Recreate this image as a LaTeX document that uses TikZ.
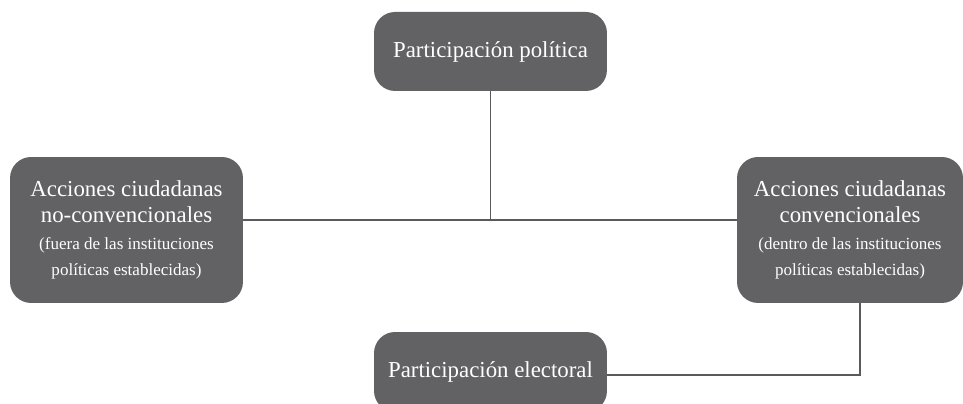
\documentclass[tikz,border=0pt]{standalone}
\usepackage{fontspec}
\setmainfont{Liberation Serif}
\usetikzlibrary{positioning}
\definecolor{boxgray}{HTML}{626163}
\definecolor{linegray}{HTML}{5A595B}
\newcommand{\subsize}{\fontsize{9.7}{12.8}\selectfont}

\begin{document}
\begin{tikzpicture}[x=0.02cm, y=-0.02cm,
	box/.style={fill=boxgray, rounded corners=12pt, text=white, align=center, inner sep=0pt, font=\fontsize{13}{15}\selectfont},
	link/.style={draw=linegray, line width=0.9pt}]
	\useasboundingbox (0,0) rectangle (963,404);
	\node[box, minimum width=4.66cm, minimum height=1.58cm] (pol) at (490.5,51.5) {Participación política};
	\node[box, minimum width=4.66cm, minimum height=2.92cm] (nconv) at (126.5,230) {Acciones ciudadanas\\ no-convencionales\\ \subsize (fuera de las instituciones\\ \subsize políticas establecidas)};
	\node[box, minimum width=4.52cm, minimum height=2.92cm] (conv) at (850,230) {Acciones ciudadanas\\ convencionales\\ \subsize (dentro de las instituciones\\ \subsize políticas establecidas)};
	\node[box, minimum width=4.66cm, minimum height=1.6cm] (elec) at (490.5,372) {Participación electoral};
	% connectors
	\coordinate (mid) at (490.5,220);
	\coordinate (turn) at (860,375);
	\draw[link] (nconv.east |- mid) -- (conv.west |- mid);
	\draw[link] (pol.south) -- (mid);
	\draw[link] (conv.south -| turn) -- (turn) -- (elec.east |- turn);
\end{tikzpicture}
\end{document}
